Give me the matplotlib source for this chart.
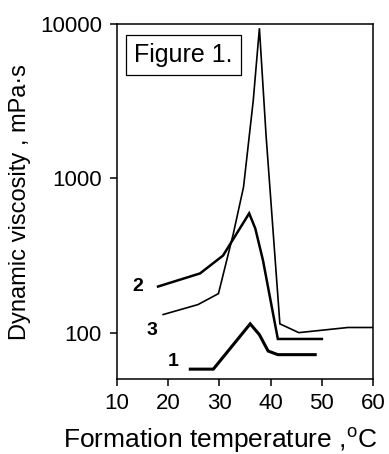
import matplotlib
matplotlib.use("Agg")
import matplotlib.pyplot as plt
from matplotlib.ticker import FixedLocator, NullLocator

plt.rcParams["font.family"] = ["Liberation Sans", "DejaVu Sans"]
plt.rcParams["mathtext.fontset"] = "custom"
plt.rcParams["mathtext.rm"] = "Liberation Sans"

# curve 1
t1 = [24.3, 28.8, 36.0, 37.8, 39.5, 41.4, 48.7]
v1 = [58, 58, 114, 97, 76, 72, 72]

# curve 2
t2 = [18.0, 26.2, 30.7, 35.8, 37.0, 38.5, 41.4, 50.0]
v2 = [199, 242, 316, 593, 473, 294, 91, 91]

# curve 3
t3 = [19.0, 25.8, 29.8, 32.7, 34.7, 36.6, 37.8, 39.1, 41.8, 45.5, 55.1, 60.0]
v3 = [131, 152, 179, 437, 879, 3200, 9400, 1900, 114, 100, 108, 108]

labels = ["1", "2", "3"]
label_pos = [(21.0, 65), (14.0, 200), (16.8, 104)]

fig = plt.figure(figsize=(3.89, 4.54), dpi=100)
ax = fig.add_axes([0.301, 0.165, 0.658, 0.782])

ax.plot(t1, v1, color="black", lw=2.2, solid_joinstyle="miter")
ax.plot(t2, v2, color="black", lw=1.8, solid_joinstyle="miter")
ax.plot(t3, v3, color="black", lw=1.2, solid_joinstyle="miter")

for lab, (x, y) in zip(labels, label_pos):
    ax.text(x, y, lab, fontsize=14, fontweight="bold", ha="center", va="center")

ax.set_yscale("log")
ax.set_xlim(10, 60)
ax.set_ylim(50, 10000)
ax.set_xticks([10, 20, 30, 40, 50, 60])
ax.yaxis.set_major_locator(FixedLocator([100, 1000, 10000]))
ax.yaxis.set_minor_locator(NullLocator())
ax.set_yticklabels(["100", "1000", "10000"])

for s in ax.spines.values():
    s.set_linewidth(1.1)
ax.tick_params(axis="both", direction="out", length=5, width=1.1,
               labelsize=16, pad=5)
ax.tick_params(axis="y", pad=6)

fig.text(220.5 / 389, 1 - 448 / 454, r"Formation temperature ,$^{\rm o}$C",
         fontsize=19, ha="center", va="baseline")
ax.set_ylabel("Dynamic viscosity , mPa·s", fontsize=17, labelpad=6)

ax.text(0.066, 0.946, "Figure 1.", transform=ax.transAxes, fontsize=18,
        ha="left", va="top",
        bbox=dict(boxstyle="square,pad=0.33", fc="white", ec="black", lw=0.9))

fig.savefig("out.png", dpi=100)
